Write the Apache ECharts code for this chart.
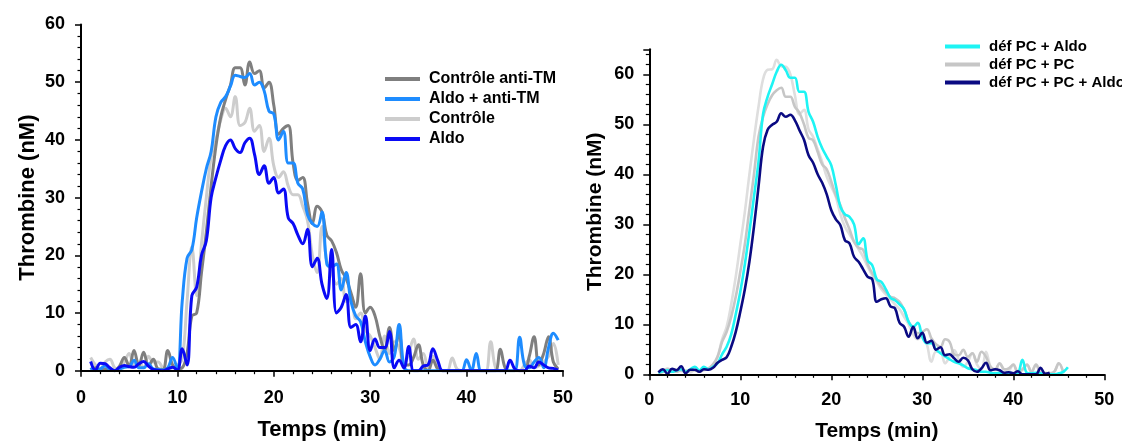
<!DOCTYPE html>
<html><head><meta charset="utf-8">
<script src="https://cdn.jsdelivr.net/npm/echarts@6/dist/echarts.min.js"></script>
<style>html,body{margin:0;padding:0;background:#fff}#c{width:1122px;height:441px}</style>
</head><body><div id="c"></div>
<script>
// ---- Left panel (t = 1.0 .. 49.5 min, step 0.5) ----
const timesL = [1,1.5,2,2.5,3,3.5,4,4.5,5,5.5,6,6.5,7,7.5,8,8.5,9,9.5,10,10.5,11,11.5,12,12.5,13,13.5,14,14.5,15,15.5,16,16.5,17,17.5,18,18.5,19,19.5,20,20.5,21,21.5,22,22.5,23,23.5,24,24.5,25,25.5,26,26.5,27,27.5,28,28.5,29,29.5,30,30.5,31,31.5,32,32.5,33,33.5,34,34.5,35,35.5,36,36.5,37,37.5,38,38.5,39,39.5,40,40.5,41,41.5,42,42.5,43,43.5,44,44.5,45,45.5,46,46.5,47,47.5,48,48.5,49,49.5];
const controle = [2.3,1.0,0.3,1.5,2.0,0.5,0.3,1.5,3.0,1.0,
  1.5,0.5,2.5,1.5,1.5,0.5,0.3,0.5,1.0,2.0,
  12,21.5,13,22,30,37,40,43.5,45.5,44,
  47.5,42.5,43,45.5,41.5,42.5,38,40.3,35.5,33.5,
  34.5,32,30.5,30.5,28.5,26,20,17,25,19,
  17,15,16,12,13,9,10,7,6,4,
  2,6,3,5,4,1,3,5.5,2,3,
  0.5,2.5,1,0,0,2.2,0.3,0,0,0,
  0,0,0,5.0,0.5,0,0,0,0,0,
  1.0,1.9,0.5,0.8,1.5,2.5,4.7,1];
const controleAntiTM = [0.2,0.5,0,0.3,0.2,0,0.8,2.3,0.8,3.5,
  0.8,3.2,0.8,2.0,0.3,0.2,3.5,1.0,0.3,0.5,
  3,9.5,10,17,24,32,39,44,47,49.5,
  52.5,52.5,49.5,53.5,51.5,52,49,50,46,41,
  42,42.5,36,33,33.5,29,25.5,28.5,27.5,23.5,
  22.5,20.5,17.5,16,13.5,11,16.8,10,11,9.5,
  6,3.5,7.5,3.5,6.5,1,1,2.3,4.5,1,
  0,1.8,0.3,0,0,0,0,0,0,0,
  0,0,0,0,0,3.7,0.5,0,0,0,
  0,2.5,5.9,1,3,5.9,1.5,0.3];
const aldoAntiTM = [0.5,0,0.3,0.8,0.2,0,0.3,0.6,0.7,1.8,
  0.5,0.5,1.2,0.3,0.2,0.1,0.5,2.3,0.3,12,
  19.5,21,26.5,31,35,38,44,46.5,47.5,49.3,
  51.2,51,50.8,51.5,49.5,50,48.5,45,44.5,40,
  41.5,36,36,32.5,31.5,27,25.5,25,27.5,18.5,
  18,18.5,14,17,12,9.5,8.5,5,2.4,1,
  2,3.5,1.5,2.5,8,0.7,0,0,0,0,
  0,0,0,0,0,0,0,0,1.9,0,
  3.0,0,0,0,0,0,0,0,0,5.8,
  1,0.5,1.5,2.3,0.5,4,6.5,5.3];
const aldo = [1.6,0.1,1.3,1.2,0.5,0,0.6,0.9,0.7,0.6,
  1.2,1.6,0.8,0.2,0.1,0,0.3,0.6,0.1,3.8,
  1.0,13,14.5,20,22.5,30,33.5,36.5,39,40,
  38.5,37.8,39.5,40.3,37.5,34,35.5,32.5,33.5,30.8,
  31.5,26.5,25.5,23.5,22,24.5,18,19.5,15,12.5,
  21,10,11,13.2,7.5,8,5,9.5,3.5,5.5,
  4,4,6.8,0.5,1.8,0.5,4.2,0,0,0.8,
  1,3.8,1.8,0,0,0,0,0,0,0,
  0,0,0,0,0,0,0,1.8,0.3,0,
  0,0.8,0.5,1.5,1.0,0.5,0.4,0.1];

// ---- Right panel (t = 1.0 .. 49.0 min, step 0.5) ----
const timesR = [1,1.5,2,2.5,3,3.5,4,4.5,5,5.5,6,6.5,7,7.5,8,8.5,9,9.5,10,10.5,11,11.5,12,12.5,13,13.5,14,14.5,15,15.5,16,16.5,17,17.5,18,18.5,19,19.5,20,20.5,21,21.5,22,22.5,23,23.5,24,24.5,25,25.5,26,26.5,27,27.5,28,28.5,29,29.5,30,30.5,31,31.5,32,32.5,33,33.5,34,34.5,35,35.5,36,36.5,37,37.5,38,38.5,39,39.5,40,40.5,41,41.5,42,42.5,43,43.5,44,44.5,45,45.5,46,46.5,47,47.5,48,48.5,49];
const defPC = [0.3,0.5,1.2,0.5,1.0,0.6,0.8,0.4,0.8,0.6,
  0.8,1.2,1.8,3.5,7,9.5,14,19.5,26,32.5,
  40,47,53.5,59,60.9,61,62.9,61.6,61.5,60,
  55.8,52,52.9,49,47.5,45,42.5,39.5,37.5,35.5,
  32,29.5,28,26.5,25,23.5,21.5,19.8,18.5,17,
  16,15,14,13,11.5,10,8,7,7.8,6,
  2.5,4.5,4.5,2.2,3.5,4.8,3,1.5,2.5,4.2,
  2,1,4.5,1.5,0.8,2.2,1.0,0.8,2.0,0.5,
  0.8,2.0,0.5,2.0,0.5,0.3,0.2,0.5,2.2,0.2,
  null,null,null,null,null,null,null];
const defPCpc = [0.2,0.5,1.0,0.8,0.5,0.8,0.5,0.8,0.8,0.5,
  1.0,1.2,2.0,3.5,6.5,8.5,11.5,15.5,20.5,26,
  33,40,47.5,51.5,54,55.8,56.8,57.3,55.5,55.5,
  53.5,52.3,50,47.3,46.8,44.5,42,41,38.5,35.8,
  33.8,31.2,29,26.5,25.3,24.9,22,20.2,18.9,17.5,
  16.5,15.5,15.2,14.5,12.9,10.5,9.3,8.2,8.5,9,
  7.2,6,5.5,7,6.5,4,3.8,4.9,3.5,4.2,
  2.5,4.5,3.5,1.5,1.0,2.2,1.0,1.2,1.9,0.5,
  1.0,1.9,0.5,1.9,0.3,0.2,0.2,0.5,2.2,0.3,
  null,null,null,null,null,null,null];
const defPCaldo = [0.3,0.6,0.8,0.5,0.8,1.0,0.5,1.0,1.5,0.8,
  1.5,1.0,1.5,2.2,4.0,5.5,8,12,16.5,22,
  28.5,35.5,42.5,52,55.5,58,60.5,61.9,60.8,59.3,
  59.3,56.5,56.5,52.5,50.5,47.5,45.2,43.5,41.8,37.8,
  33.5,32,31.5,30,26,27.2,22.8,21.8,19,18.5,
  17,15.3,14.8,14,13,10.5,9.5,10.3,7.5,6.2,
  6.2,5,4.2,3.6,3,2.5,2.2,1.8,1.2,1.0,
  0.8,0.5,0.5,0.3,0.2,0.3,0.2,0.3,0.2,0.3,
  2.9,0.3,0.2,0.3,0.2,0,0,0,0.2,0.5,
  1.4,null,null,null,null,null,null];
const defPCpcAldo = [0.4,1.0,0.1,1.1,0.8,1.6,0.2,0.9,0.9,0.5,
  1.0,0.9,1.3,2.3,2.9,3.4,5.5,8.5,12.5,17,
  22.5,29.5,37.5,45.5,48.9,49.9,50.5,52.2,51.5,51.9,
  50.8,48.8,46.9,43.8,42.3,40,38.3,36,32.8,31,
  29.8,26.8,26.2,23.5,22.5,21,19.5,19,14.5,15,
  15.2,13.6,13.2,10.3,9.5,7.5,9.5,7.2,8.3,6.3,
  6.7,4.9,5.4,3.8,4.0,3.2,2.5,3.3,2.8,1.0,
  0.5,1.2,2.3,0.8,1.0,0.8,0.3,0.4,0.2,0.6,
  0,0,0,0,1.3,0.1,0.3,null,null,null,
  null,null,null,null,null,null,null];

const xTicks = [0,10,20,30,40,50];

function pairs(ts, vs){ return ts.map((t,i)=>[t, vs[i]]); }

const FONT = '"Liberation Sans", Arial, sans-serif';
function xAx(gi, nameGap, nameSize, labelMargin){
  return {
    type:'value', gridIndex:gi, min:0, max:50, interval:10, z:5,
    name:'Temps (min)', nameLocation:'middle', nameGap:nameGap,
    nameTextStyle:{fontFamily:FONT, fontWeight:'bold', fontSize:nameSize, color:'#000'},
    axisLine:{show:true, onZero:false, lineStyle:{color:'#000', width:2}},
    axisTick:{show:true, inside:false, length:6, lineStyle:{color:'#000', width:1.5}},
    minorTick:{show:true, splitNumber:5, length:3.5, lineStyle:{color:'#000', width:1.2}},
    splitLine:{show:false},
    axisLabel:{fontFamily:FONT, fontWeight:'bold', fontSize:18, color:'#000', margin:labelMargin,
      formatter:v=> xTicks.indexOf(v)>=0 ? String(v) : ''}
  };
}
function yAx(gi, max, nameGap, nameSize, labelMargin){
  return {
    type:'value', gridIndex:gi, min:0, max:max, interval:10, z:5,
    name:'Thrombine (nM)', nameLocation:'middle', nameGap:nameGap, nameRotate:90,
    nameTextStyle:{fontFamily:FONT, fontWeight:'bold', fontSize:nameSize, color:'#000'},
    axisLine:{show:true, onZero:false, lineStyle:{color:'#000', width:2}},
    axisTick:{show:true, inside:false, length:6, lineStyle:{color:'#000', width:1.5}},
    minorTick:{show:true, splitNumber:5, length:3.5, lineStyle:{color:'#000', width:1.2}},
    splitLine:{show:false},
    axisLabel:{fontFamily:FONT, fontWeight:'bold', fontSize:18, color:'#000', margin:labelMargin,
      showMaxLabel: max===60, formatter:v=> (v%10===0 && v<=60) ? String(v) : ''}
  };
}
function line(name, xi, ts, vs, color, w){
  return {type:'line', name:name, xAxisIndex:xi, yAxisIndex:xi, data:pairs(ts, vs),
    color:color, showSymbol:false, symbol:'none', smooth:0.4, clip:true,
    lineStyle:{color:color, width:w}, silent:true, connectNulls:false};
}

const chart = echarts.init(document.getElementById('c'), null, {renderer:'canvas'});
chart.setOption({
  animation:false,
  backgroundColor:'#fff',
  grid:[
    {left:81, top:24.5, width:482, height:346.2, containLabel:false, outerBoundsMode:'none'},
    {left:649.3, top:49.3, width:455, height:325, containLabel:false, outerBoundsMode:'none'}
  ],
  xAxis:[ xAx(0, 48, 22, 18), xAx(1, 46, 21, 17) ],
  yAxis:[ yAx(0, 60, 42, 22, 16), yAx(1, 65, 44, 21, 15) ],
  legend:[
    {left:385, top:71, padding:0, orient:'vertical', icon:'rect', itemWidth:35, itemHeight:4, itemGap:4,
     data:['Contrôle anti-TM','Aldo + anti-TM','Contrôle','Aldo'],
     textStyle:{fontFamily:FONT, fontWeight:'bold', fontSize:16, lineHeight:16, color:'#000', padding:[0,0,0,4]}},
    {left:945, top:39, padding:0, orient:'vertical', icon:'rect', itemWidth:35, itemHeight:4, itemGap:3,
     data:['déf PC + Aldo','déf PC + PC','déf PC + PC + Aldo'],
     textStyle:{fontFamily:FONT, fontWeight:'bold', fontSize:15, lineHeight:15, color:'#000', padding:[0,0,0,4]}}
  ],
  series:[
    line('Contrôle', 0, timesL, controle, '#cdcdcd', 3),
    line('Contrôle anti-TM', 0, timesL, controleAntiTM, '#7f7f7f', 3),
    line('Aldo + anti-TM', 0, timesL, aldoAntiTM, '#1e8cff', 3),
    line('Aldo', 0, timesL, aldo, '#0a0af5', 3),
    line('déf PC', 1, timesR, defPC, '#dedede', 2.6),
    line('déf PC + PC', 1, timesR, defPCpc, '#c6c6c6', 2.6),
    line('déf PC + Aldo', 1, timesR, defPCaldo, '#1ef4f4', 2.6),
    line('déf PC + PC + Aldo', 1, timesR, defPCpcAldo, '#0a0a82', 2.6)
  ]
});
</script></body></html>
